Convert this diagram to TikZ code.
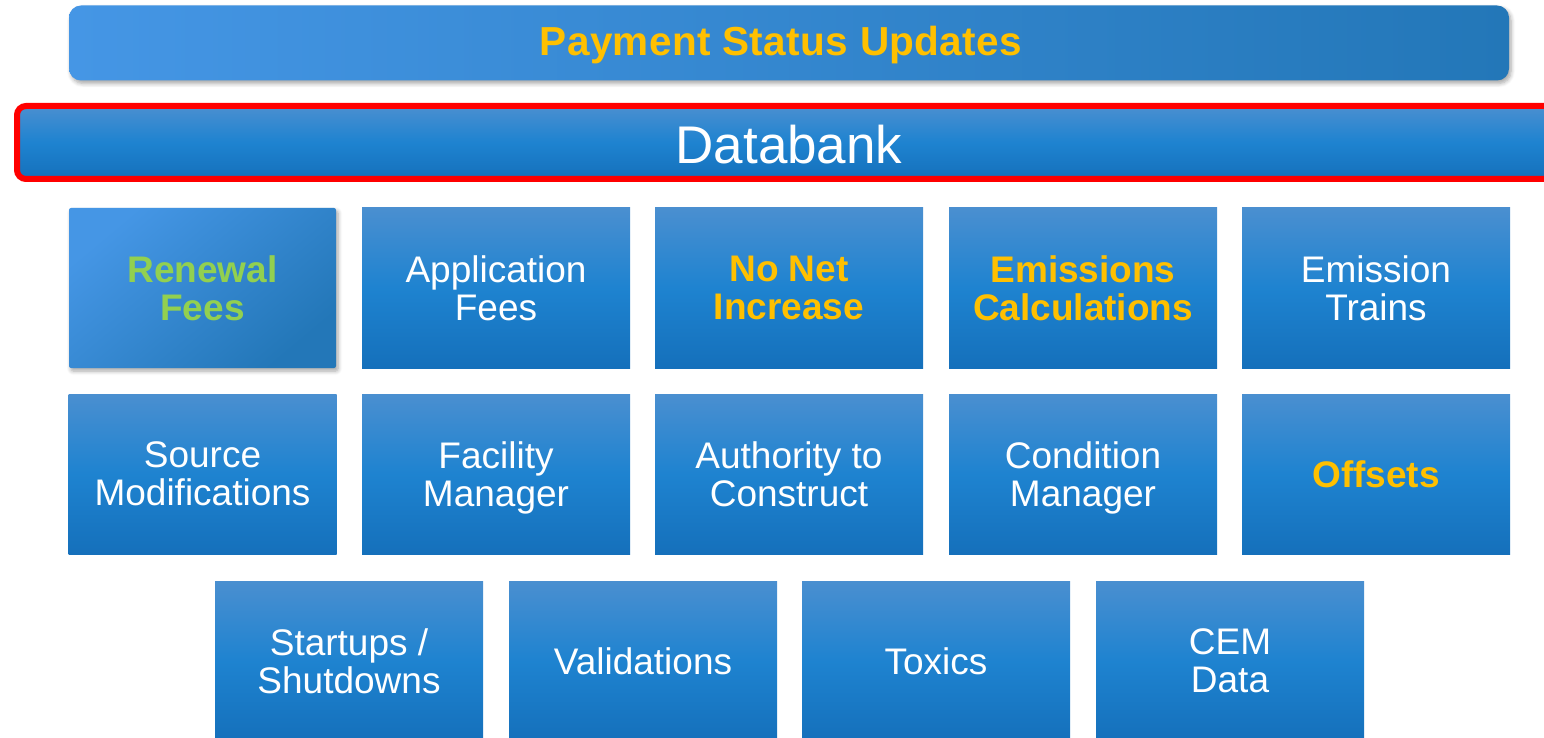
\documentclass[tikz,border=0pt]{standalone}
\usepackage{fontspec}
\setmainfont{Liberation Sans}
\usetikzlibrary{shadows.blur}
\definecolor{boxtop}{HTML}{4A8FD0}
\definecolor{boxmid}{HTML}{1E83D0}
\definecolor{boxbot}{HTML}{1570BB}
\definecolor{barleft}{HTML}{4596E5}
\definecolor{barright}{HTML}{2377B8}
\definecolor{gold}{HTML}{FFC000}
\definecolor{lgreen}{HTML}{92D050}
\definecolor{dbred}{HTML}{FF0000}
\newcommand\nodesc[1]{\raisebox{0pt}[\height][0pt]{#1}}
\tikzset{
  tile/.style={draw=none, top color=boxtop, bottom color=boxbot, middle color=boxmid,
    minimum width=268pt, minimum height=160pt, inner sep=0pt, align=center,
    text=white, font=\fontsize{37}{38}\selectfont},
  hl/.style={font=\fontsize{37}{38}\selectfont\bfseries, text=gold},
  softshadow/.style={blur shadow={shadow xshift=2pt, shadow yshift=-3pt, shadow blur steps=6, shadow blur radius=4pt, shadow opacity=35}},
}
\begin{document}
\begin{tikzpicture}[x=1pt, y=-1pt]
\useasboundingbox (0,0) rectangle (1544,738);
\clip (0,0) rectangle (1544,738);
% top bar
\node[softshadow, left color=barleft, right color=barright, rounded corners=12pt,
  minimum width=1440pt, minimum height=75pt, inner sep=0pt] (status) at (789,43) {};
\node[text=gold, font=\fontsize{40.5}{48}\selectfont\bfseries\addfontfeatures{LetterSpace=1}, inner sep=0pt] (statustext) at (781,45) {Payment Status Updates};
% databank bar
\node[draw=dbred, line width=6pt, rounded corners=9pt, top color=boxtop, bottom color=boxbot, middle color=boxmid,
  minimum width=1543pt, minimum height=73pt, inner sep=0pt] (databank) at (788.5,142.5) {};
\node[text=white, font=\fontsize{53}{60}\selectfont, inner sep=0pt] (databanktext) at (789,145) {Databank};
% row 1
\node[softshadow, draw=none, rounded corners=2pt, top color=barleft, bottom color=barright, shading angle=40,
  minimum width=267pt, minimum height=160pt, inner sep=0pt, align=center,
  text=lgreen, font=\fontsize{37}{38}\selectfont\bfseries] (renewal) at (202.5,288) {Renewal\\Fees};
\node[tile] (appfees) at (496,288) {Application\\Fees};
\node[tile, hl] (nni) at (789,288) {No Net\\Increase};
\node[tile, hl] (emcalc) at (1083,288) {Emissions\\Calculations};
\node[tile] (emtrains) at (1376,288) {Emission\\Trains};
% row 2
\node[tile] (srcmod) at (202.5,474) {Source\\Modifications};
\node[tile] (facmgr) at (496,474) {Facility\\\nodesc{Manager}};
\node[tile] (atc) at (789,474) {Authority to\\Construct};
\node[tile] (condmgr) at (1083,474) {Condition\\\nodesc{Manager}};
\node[tile, hl] (offsets) at (1376,474) {Offsets};
% row 3
\node[tile] (startups) at (349,661) {Startups /\\Shutdowns};
\node[tile] (valid) at (643,661) {Validations};
\node[tile] (toxics) at (936,661) {Toxics};
\node[tile] (cem) at (1230,661) {CEM\\Data};
\end{tikzpicture}
\end{document}
